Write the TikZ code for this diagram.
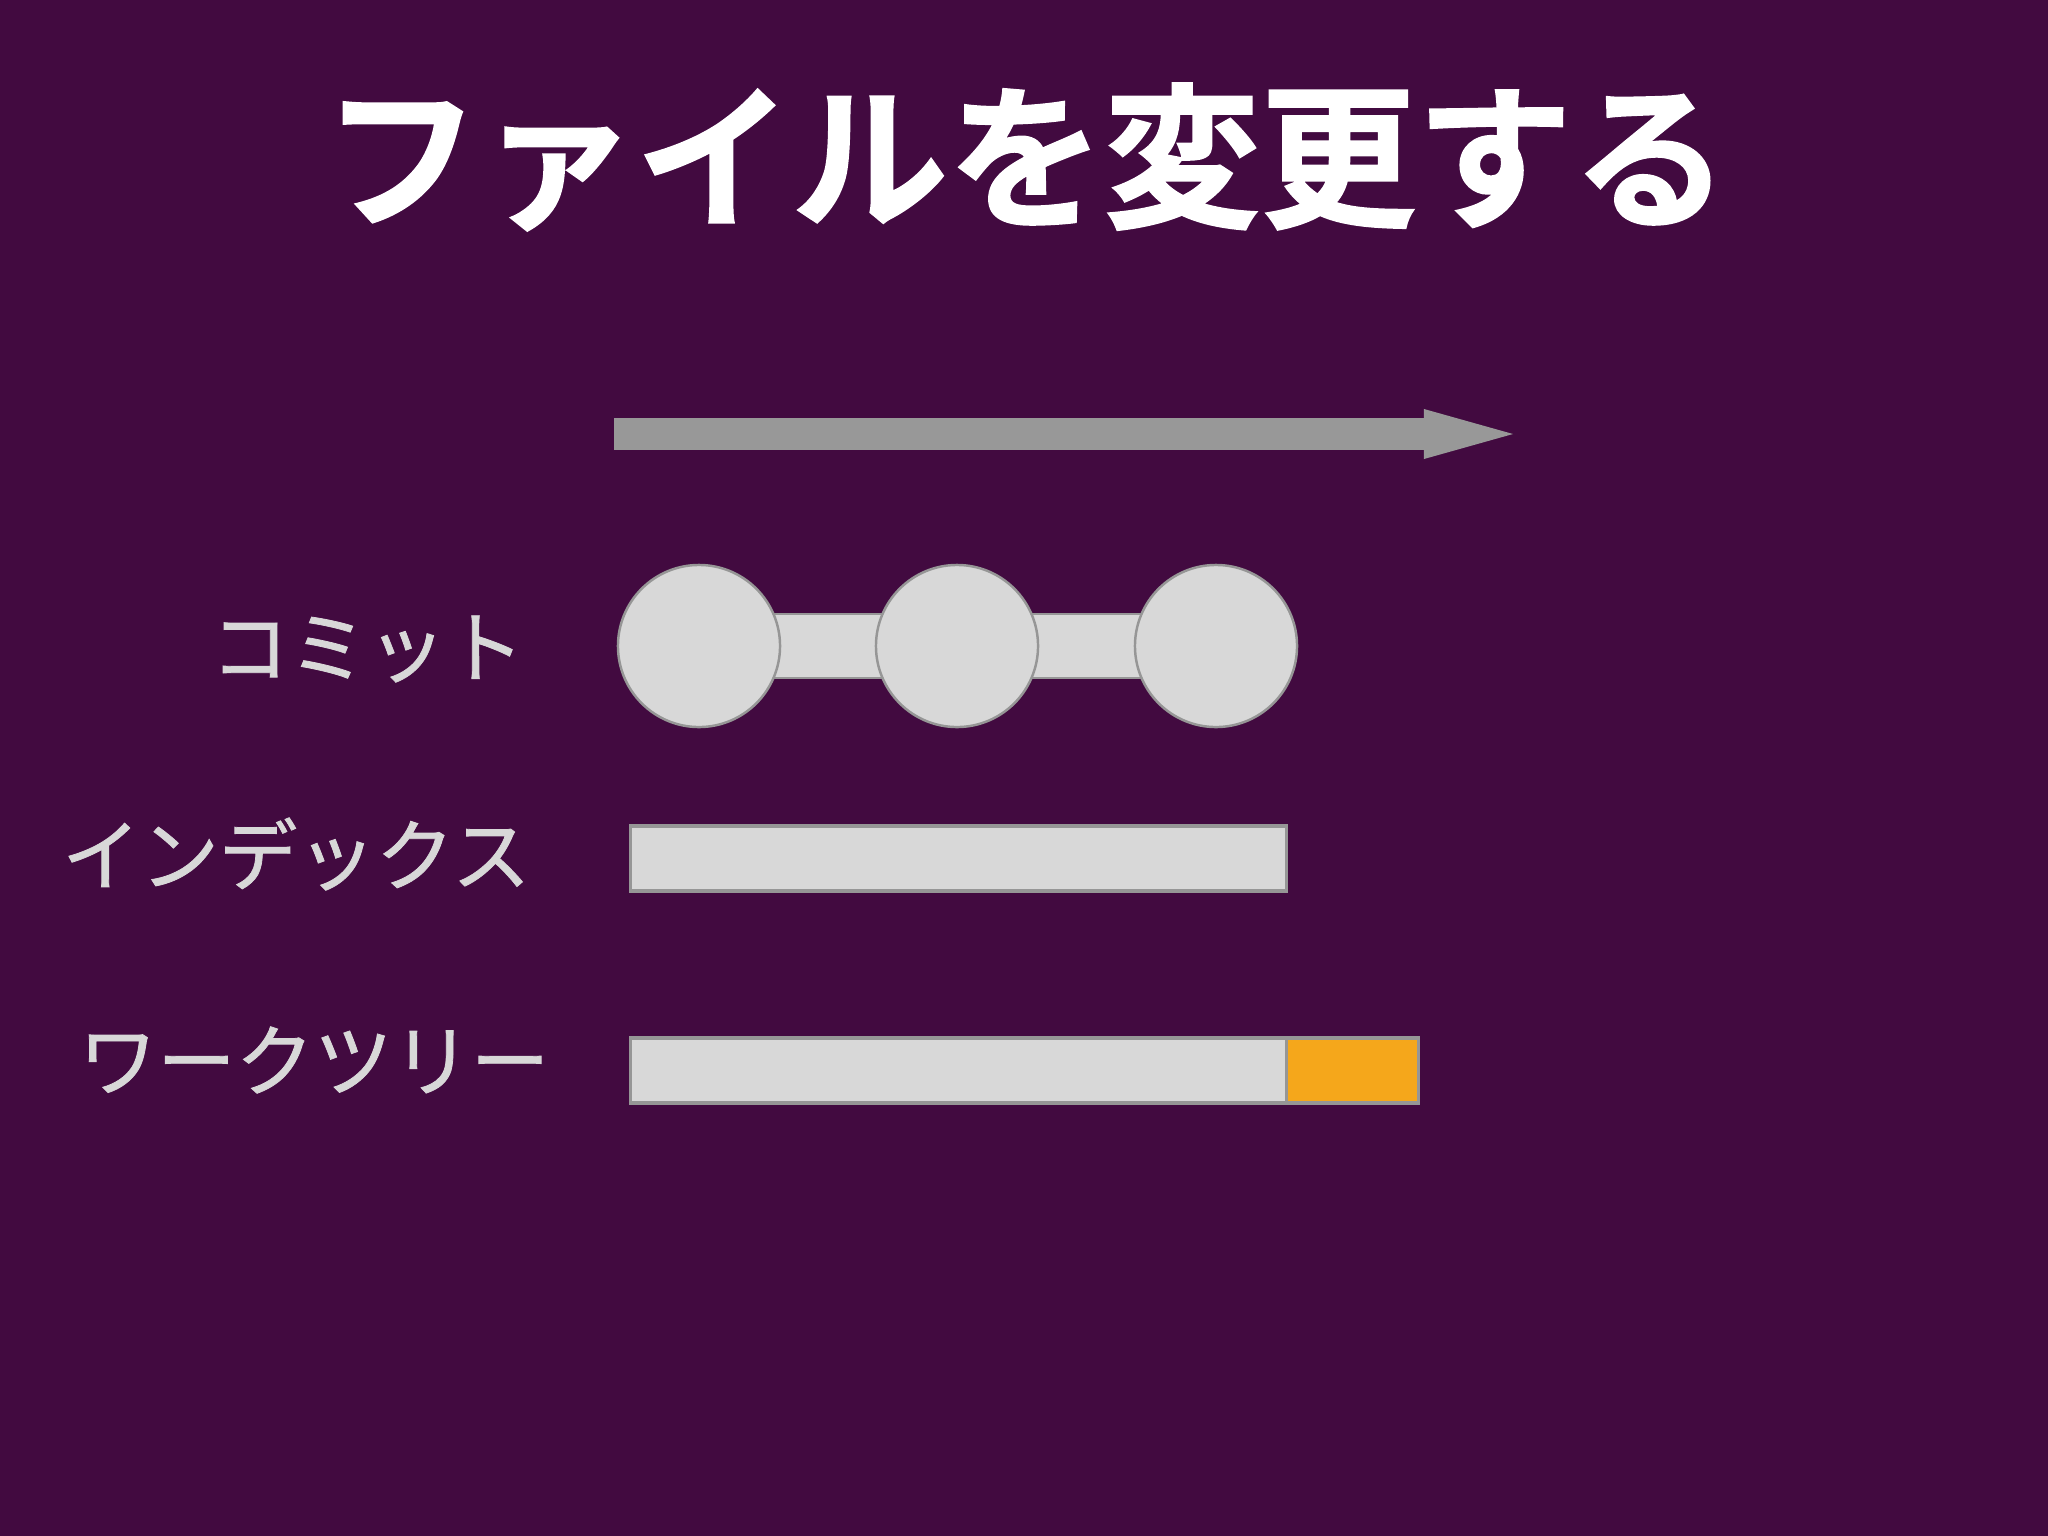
\documentclass[tikz,border=0pt]{standalone}
\usepackage{fontspec}
\usepackage{xcolor}
\usepackage{tikz}
\usetikzlibrary{arrows.meta, positioning, calc}
\newfontfamily\jpfont[FakeBold=1]{Noto Sans CJK JP}
\newfontfamily\jptitle[FakeBold=1.2]{Noto Sans CJK JP Bold}
\definecolor{bgpurple}{RGB}{66,10,64}
\definecolor{barfill}{RGB}{216,216,216}
\definecolor{barline}{RGB}{150,150,150}
\definecolor{arrowgray}{RGB}{152,152,152}
\definecolor{changed}{RGB}{245,167,27}

\begin{document}
\begin{tikzpicture}[x=0.01cm, y=-0.01cm, >=Stealth]
    \tikzset{title/.style = {text=white, font=\jptitle\fontsize{44.4pt}{50pt}\selectfont, inner sep=0pt}}
    \tikzset{rowlabel/.style = {text=barfill, font=\jpfont\fontsize{22.3pt}{26pt}\selectfont, inner sep=0pt, anchor=east}}
    \tikzset{commit/.style = {circle, draw=barline, fill=barfill, line width=0.7pt, minimum size=1.62cm, inner sep=0pt}}
    \tikzset{link/.style = {draw=barline, fill=barfill, line width=0.7pt}}
    \tikzset{stage/.style = {rectangle, draw=barline, fill=barfill, line width=0.9pt, minimum width=6.55cm, minimum height=0.65cm, inner sep=0pt, outer sep=0pt}}
    \tikzset{diff/.style = {rectangle, draw=barline, fill=changed, line width=0.9pt, minimum width=1.32cm, minimum height=0.65cm, inner sep=0pt, outer sep=0pt}}
    \tikzset{timeline/.style = {draw=arrowgray, line width=0.32cm, -{Triangle[length=0.89cm, width=0.50cm, line width=0pt]}}}

    % Background
    \fill [bgpurple] (0,0) rectangle (2048,1536);
    \useasboundingbox (0,0) rectangle (2048,1536);

    % Title
    \node [title] (head) at (1026,157) {ファイルを変更する};

    % Time axis
    \coordinate (tstart) at (614,434);
    \coordinate (tend) at (1513,434);
    \draw [timeline] (tstart) -- (tend);

    % Commits
    \coordinate (k1) at (699,646);
    \coordinate (k3) at (1216,646);
    \draw [link] ($(k1)+(0,-32)$) rectangle ($(k3)+(0,32)$);
    \node [commit] (c1) at (k1) {};
    \node [commit] (c2) at (957,646) {};
    \node [commit] (c3) at (k3) {};
    \node [rowlabel] (lcommit) at (525,649) {コミット};

    % Index and work tree
    \node [stage] (index) at (958.5,858.5) {};
    \node [stage] (work) at (958.5,1070.5) {};
    \node [diff, right=0pt of work] (edit) {};
    \node [rowlabel] (lindex) at (531,854) {インデックス};
    \node [rowlabel] (lwork) at (550,1060) {ワークツリー};
\end{tikzpicture}
\end{document}
